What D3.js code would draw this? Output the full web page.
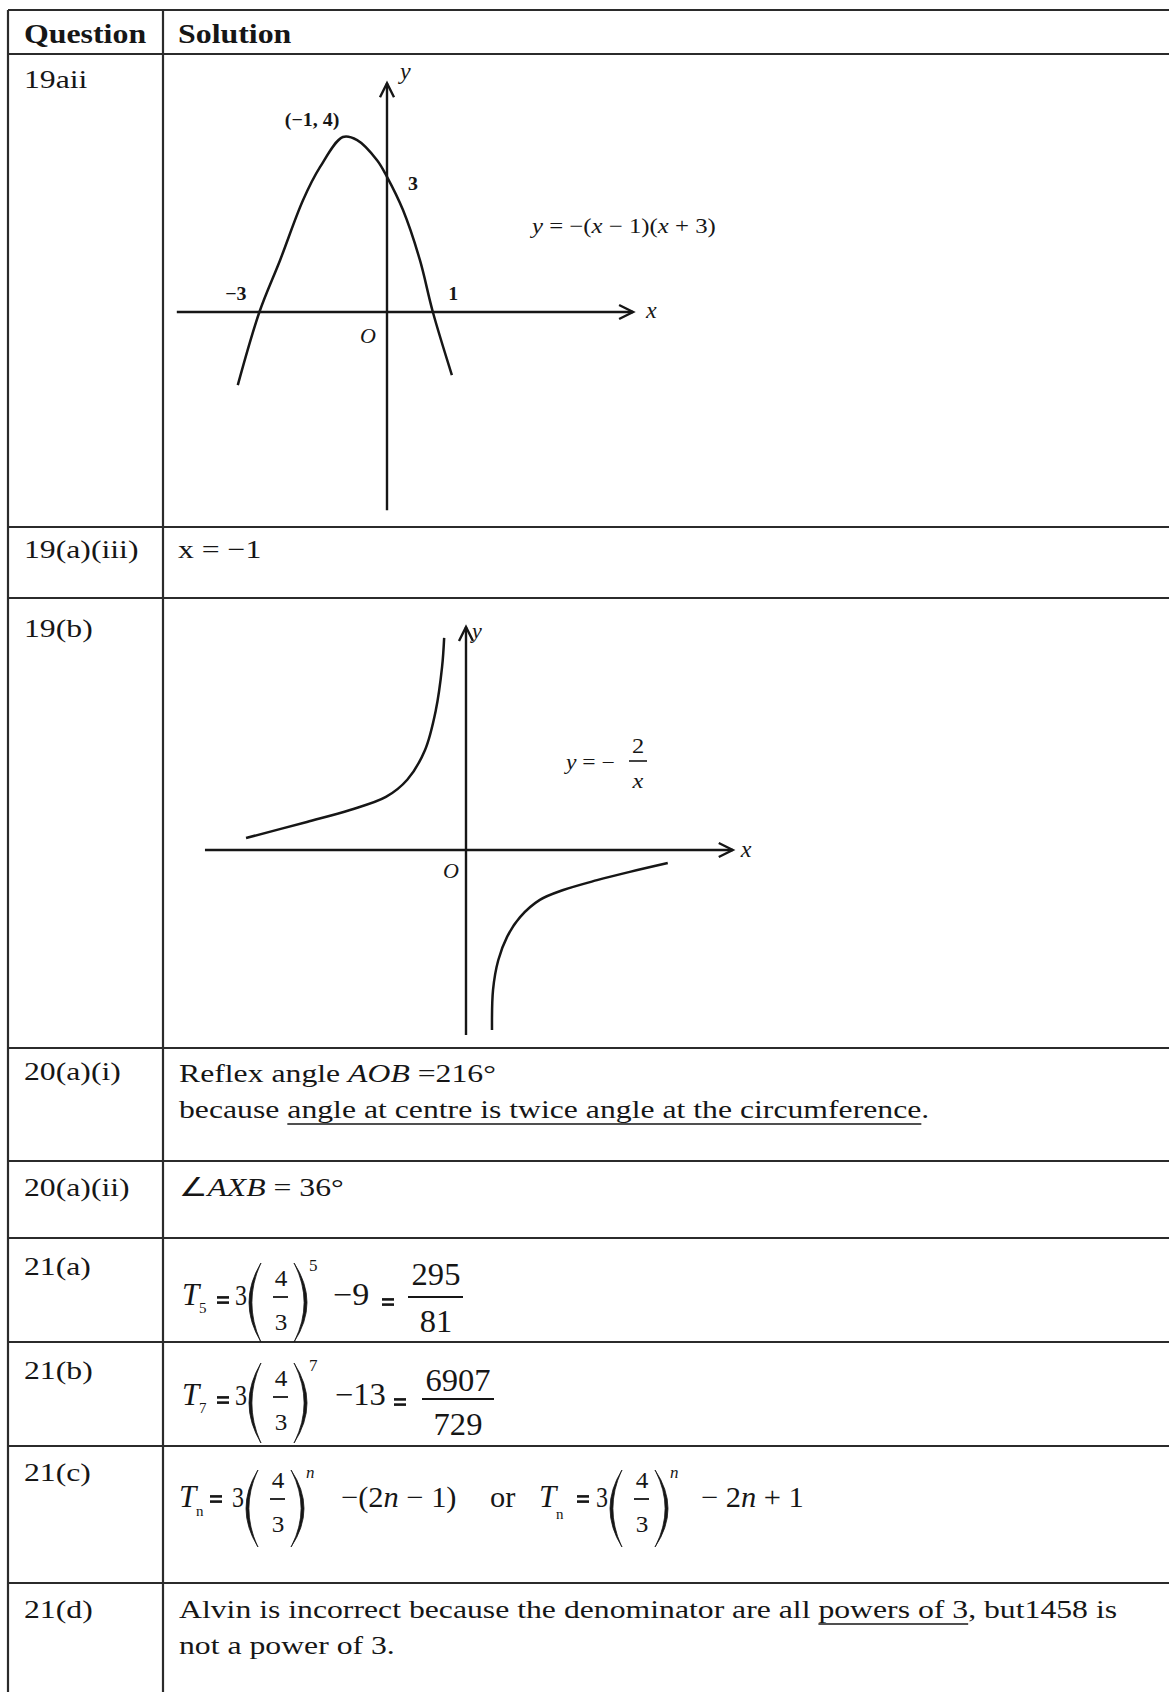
<!DOCTYPE html>
<html>
<head>
<meta charset="utf-8">
<script src="https://cdn.jsdelivr.net/npm/d3@7"></script>
<style>
  html, body { margin: 0; padding: 0; background: #fff; }
  svg { display: block; }
</style>
</head>
<body>
<div id="sheet"></div>
<script>
// ---- data ----
const questions = ["19aii", "19(a)(iii)", "19(b)", "20(a)(i)", "20(a)(ii)", "21(a)", "21(b)", "21(c)", "21(d)"];
const headers = ["Question", "Solution"];

// y = -(x-1)(x+3) (data units)
const parabolaPts = [[-3.45, -1.67], [-2.95, 0], [-2.47, 1.19], [-1.94, 2.56], [-1.55, 3.31], [-1.02, 4.0],
  [-0.69, 3.93], [-0.23, 3.47], [0, 3.09], [0.37, 2.33], [0.76, 1.19], [1.06, 0], [1.5, -1.44]];
const parabolaAxisX = [-4.86, 5.69];
const parabolaAxisY = [-4.53, 5.23];
const parabolaMarks = [
  { text: "(−1, 4)", x: -1, y: 4 },
  { text: "3", x: 0, y: 3 },
  { text: "−3", x: -3, y: 0 },
  { text: "1", x: 1, y: 0 }
];

// y = -2/x, two branches
const hypLeft = [[-4.23, 0.23], [-3.06, 0.54], [-2.23, 0.77], [-1.54, 1.02], [-1.13, 1.35], [-0.79, 1.92],
  [-0.58, 2.69], [-0.46, 3.52], [-0.42, 4.08]];
const hypRight = [[0.50, -3.46], [0.52, -2.69], [0.62, -2.12], [0.79, -1.67], [1.04, -1.29], [1.42, -0.96],
  [1.87, -0.77], [2.52, -0.58], [3.15, -0.42], [3.88, -0.25]];
const hypAxisX = [-5.02, 5.13];
const hypAxisY = [-3.56, 4.29];

// ---- page ----
const W = 1169, H = 1692;
const SX = 1.22;            // the scan is stretched sideways a little
const FONT = "'Liberation Serif','Times New Roman',serif";
const INK = "#161616";
const RULE = "#2b2b2b";

const svg = d3.select("#sheet").append("svg").attr("width", W).attr("height", H);
svg.append("rect").attr("width", W).attr("height", H).attr("fill", "#fff");

function label(g, x, y, parts, o = {}) {
  const t = g.append("text")
    .attr("transform", `translate(${x},${y}) scale(${o.sx ?? SX},1)`)
    .attr("font-family", FONT)
    .attr("font-size", o.size ?? 26)
    .attr("fill", INK);
  if (o.weight) t.attr("font-weight", o.weight);
  if (o.style) t.attr("font-style", o.style);
  if (o.anchor) t.attr("text-anchor", o.anchor);
  if (!Array.isArray(parts)) parts = [parts];
  parts.forEach(p => {
    const s = t.append("tspan").text(Array.isArray(p) ? p[0] : p);
    if (Array.isArray(p) && p[1] === "i") s.attr("font-style", "italic");
  });
  return t;
}

function underline(g, t, x, y, from, count) {
  const n = t.node();
  const a = n.getSubStringLength(0, from) * SX;
  const w = n.getSubStringLength(from, count) * SX;
  g.append("line").attr("x1", x + a).attr("x2", x + a + w).attr("y1", y).attr("y2", y)
    .attr("stroke", INK).attr("stroke-width", 1.6);
}

// ---- table rules ----
const rowEdges = [10, 54, 527, 598, 1048, 1161, 1238, 1342, 1446, 1583];
const colX = [8, 163];
const grid = svg.append("g").attr("stroke", RULE).attr("stroke-width", 2.2);
grid.selectAll("line.h").data(rowEdges).join("line").attr("class", "h")
  .attr("x1", colX[0]).attr("x2", W).attr("y1", d => d).attr("y2", d => d);
grid.selectAll("line.v").data(colX).join("line").attr("class", "v")
  .attr("x1", d => d).attr("x2", d => d).attr("y1", rowEdges[0]).attr("y2", H);

// header
label(svg, 24, 43, headers[0], { weight: "bold", size: 27, sx: 1.18 });
label(svg, 178, 43, headers[1], { weight: "bold", size: 27, sx: 1.18 });

// question labels
const labelBase = [88, 558, 637, 1080, 1196, 1275, 1379, 1481, 1618];
questions.forEach((q, i) => label(svg, 24, labelBase[i], q));

// ---- 19aii parabola ----
const g1 = svg.append("g");
const x1 = d3.scaleLinear().domain([0, 1]).range([387, 430.25]);
const y1 = d3.scaleLinear().domain([0, 1]).range([312, 268.25]);

function axes(g, xs, ys, ax, ay) {
  const put = sel => sel.attr("stroke", INK).attr("stroke-width", 2.4).attr("fill", "none");
  put(g.append("line").attr("x1", xs(ax[0])).attr("x2", xs(ax[1])).attr("y1", ys(0)).attr("y2", ys(0)));
  put(g.append("line").attr("x1", xs(0)).attr("x2", xs(0)).attr("y1", ys(ay[0])).attr("y2", ys(ay[1])));
  const tx = xs(ax[1]), ty = ys(0);
  put(g.append("path").attr("d", `M${tx - 14},${ty - 7}L${tx},${ty}L${tx - 14},${ty + 7}`));
  const ux = xs(0), uy = ys(ay[1]);
  put(g.append("path").attr("d", `M${ux - 7},${uy + 14}L${ux},${uy}L${ux + 7},${uy + 14}`));
}

axes(g1, x1, y1, parabolaAxisX, parabolaAxisY);
const curve = d3.line().x(d => x1(d[0])).y(d => y1(d[1])).curve(d3.curveCatmullRom.alpha(0.5));
g1.append("path").attr("d", curve(parabolaPts)).attr("fill", "none").attr("stroke", INK).attr("stroke-width", 2.5);

const markOffset = [[-59, -11], [21, 9], [-32, -12], [18, -12]];
parabolaMarks.forEach((m, i) =>
  label(g1, x1(m.x) + markOffset[i][0], y1(m.y) + markOffset[i][1], m.text, { size: 19, weight: "bold", sx: 1.05 }));
label(g1, x1(0) - 27, y1(0) + 31, "O", { size: 22, style: "italic", sx: 1 });
label(g1, x1(0) + 13, y1(parabolaAxisY[1]) - 4, "y", { size: 24, style: "italic", sx: 1 });
label(g1, x1(parabolaAxisX[1]) + 13, y1(0) + 6, "x", { size: 24, style: "italic", sx: 1 });
label(g1, 532, 233, [["y", "i"], " = −(", ["x", "i"], " − 1)(", ["x", "i"], " + 3)"], { size: 21, sx: 1.18 });

// ---- 19(a)(iii) ----
label(svg, 178, 558, "x = −1");

// ---- 19(b) hyperbola ----
const g2 = svg.append("g");
const x2 = d3.scaleLinear().domain([0, 1]).range([466, 518]);
const y2 = d3.scaleLinear().domain([0, 1]).range([850, 798]);
axes(g2, x2, y2, hypAxisX, hypAxisY);
const curve2 = d3.line().x(d => x2(d[0])).y(d => y2(d[1])).curve(d3.curveCatmullRom.alpha(0.5));
[hypLeft, hypRight].forEach(b =>
  g2.append("path").attr("d", curve2(b)).attr("fill", "none").attr("stroke", INK).attr("stroke-width", 2.5));
label(g2, x2(0) - 23, y2(0) + 28, "O", { size: 22, style: "italic", sx: 1 });
label(g2, x2(0) + 6, y2(hypAxisY[1]) + 11, "y", { size: 22, style: "italic", sx: 1 });
label(g2, x2(hypAxisX[1]) + 8, y2(0) + 7, "x", { size: 24, style: "italic", sx: 1 });
label(g2, 566, 769, [["y", "i"], " = −"], { size: 20, sx: 1.18 });
g2.append("line").attr("x1", 629).attr("x2", 647).attr("y1", 761).attr("y2", 761).attr("stroke", INK).attr("stroke-width", 1.6);
label(g2, 638, 753, "2", { size: 20, anchor: "middle" });
label(g2, 638, 788, "x", { size: 20, anchor: "middle", style: "italic" });

// ---- 20(a)(i) ----
label(svg, 179, 1082, ["Reflex angle ", ["AOB", "i"], " =216°"]);
const because = label(svg, 179, 1118, "because angle at centre is twice angle at the circumference.");
underline(svg, because, 179, 1124, 8, 51);

// ---- 20(a)(ii) ----
label(svg, 179, 1196, ["∠", ["AXB", "i"], " = 36°"]);

// ---- formulas 21(a)-(c) ----
function paren(g, x0, x1, y0, y1, left) {
  const ym = (y0 + y1) / 2;
  let d;
  if (left) {
    d = `M${x1},${y0}Q${2 * x0 - x1},${ym} ${x1},${y1}L${x1 - 0.6},${y1 - 1}Q${2 * (x0 + 3.2) - x1},${ym} ${x1 - 0.6},${y0 + 1}Z`;
  } else {
    d = `M${x0},${y0}Q${2 * x1 - x0},${ym} ${x0},${y1}L${x0 + 0.6},${y1 - 1}Q${2 * (x1 - 3.2) - x0},${ym} ${x0 + 0.6},${y0 + 1}Z`;
  }
  g.append("path").attr("d", d).attr("fill", INK).attr("stroke", INK).attr("stroke-width", 0.8);
}

function frac(g, cx, barY, bx0, bx1, num, den, size, nb, db) {
  g.append("line").attr("x1", bx0).attr("x2", bx1).attr("y1", barY).attr("y2", barY)
    .attr("stroke", INK).attr("stroke-width", 1.8);
  label(g, cx, nb, num, { size, anchor: "middle", sx: 1.05 });
  label(g, cx, db, den, { size, anchor: "middle", sx: 1.05 });
}

function termT(g, x, base, sub, subDy) {
  label(g, x, base, "T", { size: 31, style: "italic", sx: 1 });
  label(g, x + 17, base + subDy, sub, { size: 15, sx: 1 });
}

// the scanned "=" prints as a short heavy bar pair
function equals(g, x, cy) {
  [-2.6, 2.6].forEach(dy => g.append("line")
    .attr("x1", x).attr("x2", x + 12).attr("y1", cy + dy).attr("y2", cy + dy)
    .attr("stroke", INK).attr("stroke-width", 2.6));
}

function power(g, x, base, top, bottom, exp, expItalic) {
  // 3(4/3)^k, x is the left of the coefficient
  label(g, x, base, "3", { size: 30, sx: 0.8 });
  paren(g, x + 14, x + 26, top, bottom, true);
  frac(g, x + 46, base - 8, x + 38, x + 53, "4", "3", 24, base - 19, base + 25);
  paren(g, x + 59, x + 72, top, bottom, false);
  label(g, x + 74, top + 8, exp, { size: 17, style: expItalic ? "italic" : null, sx: 1 });
}

const gf = svg.append("g");
// 21(a)
termT(gf, 182, 1305, "5", 8);
equals(gf, 217, 1300);
power(gf, 235, 1305, 1263, 1342, "5", false);
label(gf, 333, 1305, "−9", { size: 31, sx: 1.1 });
equals(gf, 382, 1302);
frac(gf, 436, 1297, 408, 463, "295", "81", 31, 1285, 1332);

// 21(b)
termT(gf, 182, 1405, "7", 8);
equals(gf, 217, 1400);
power(gf, 235, 1405, 1363, 1443, "7", false);
label(gf, 335, 1405, "−13", { size: 31, sx: 1.05 });
equals(gf, 394, 1402);
frac(gf, 458, 1399, 422, 494, "6907", "729", 31, 1391, 1435);

// 21(c)
termT(gf, 179, 1507, "n", 9);
equals(gf, 210, 1499);
power(gf, 232, 1507, 1470, 1547, "n", true);
label(gf, 341, 1507, ["−(2", ["n", "i"], " − 1)"], { size: 29, sx: 1.05 });
label(gf, 490, 1507, "or", { size: 29, sx: 1.05 });
termT(gf, 539, 1507, "n", 12);
equals(gf, 577, 1499);
power(gf, 596, 1507, 1470, 1547, "n", true);
label(gf, 701, 1507, ["− 2", ["n", "i"], " + 1"], { size: 29, sx: 1.05 });

// ---- 21(d) ----
const alvin = label(svg, 179, 1618, "Alvin is incorrect because the denominator are all powers of 3, but1458 is");
underline(svg, alvin, 179, 1624, 51, 11);
label(svg, 179, 1654, "not a power of 3.");
</script>
</body>
</html>
